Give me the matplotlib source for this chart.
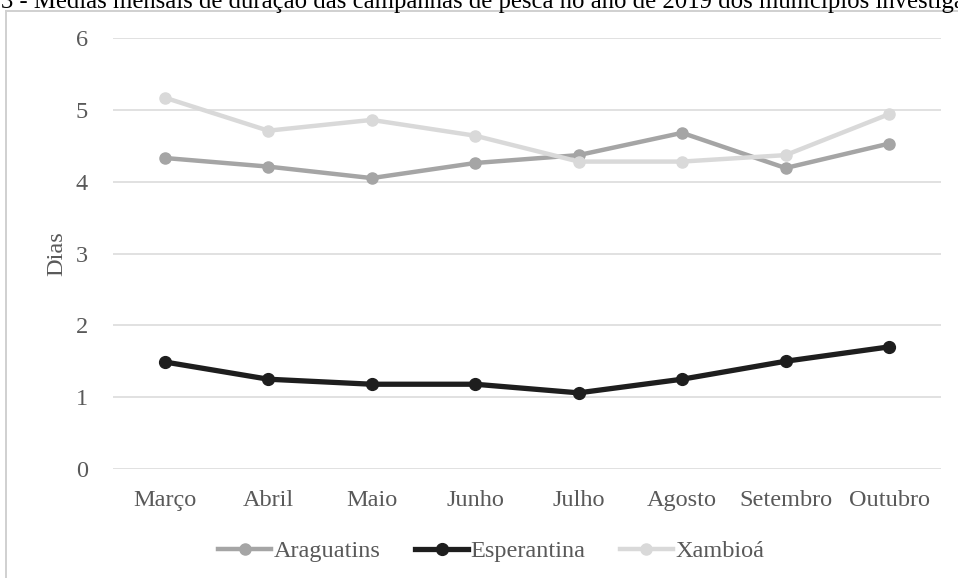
import matplotlib.pyplot as plt
from matplotlib.lines import Line2D

plt.rcParams['font.family'] = ['Liberation Serif', 'DejaVu Serif']

# Monthly means of fishing-trip duration (days), 2019
months = ['Março', 'Abril', 'Maio', 'Junho', 'Julho', 'Agosto', 'Setembro', 'Outubro']
araguatins = [4.33, 4.21, 4.05, 4.26, 4.37, 4.68, 4.19, 4.53]
esperantina = [1.49, 1.25, 1.18, 1.18, 1.06, 1.25, 1.50, 1.70]
xambioa = [5.17, 4.71, 4.86, 4.64, 4.28, 4.28, 4.37, 4.94]

fig = plt.figure(figsize=(9.58, 5.78), dpi=100)
ax = fig.add_axes([0.118, 0.1886, 0.864, 0.7456])

x = range(len(months))
ax.plot(x, araguatins, color='#a5a5a5', lw=3.2, marker='o', ms=8, label='Araguatins', zorder=3)
ax.plot(x, esperantina, color='#1e1e1e', lw=3.8, marker='o', ms=8.5, label='Esperantina', zorder=3)
ax.plot(x, xambioa, color='#d9d9d9', lw=3.2, marker='o', ms=8, label='Xambioá', zorder=4)

ax.set_xlim(-0.5, len(months) - 0.5)
ax.set_ylim(0, 6)
ax.set_yticks(range(0, 7))
ax.set_xticks(list(x))
ax.set_xticklabels(months)
ax.grid(axis='y', color='#d9d9d9', lw=1.1)
ax.set_axisbelow(True)
for s in ax.spines.values():
    s.set_visible(False)
ax.tick_params(length=0, labelsize=17.5, colors='#595959')
ax.tick_params(axis='x', pad=15)
ax.tick_params(axis='y', pad=18)
ax.set_ylabel('Dias', fontsize=17.5, color='#595959', labelpad=6)

ax.legend(loc='upper center', bbox_to_anchor=(0.457, -0.115), ncol=3, frameon=False,
          fontsize=17.5, labelcolor='#595959', handlelength=2.2, handletextpad=0.1,
          columnspacing=1.4)

# chart frame (partly outside the picture)
fig.add_artist(Line2D([6 / 958, 6 / 958], [0, 1 - 11 / 578], color='#d0d0d0', lw=1.4))
fig.add_artist(Line2D([6 / 958, 1], [1 - 11 / 578, 1 - 11 / 578], color='#d0d0d0', lw=1.4))

# caption cut off at the top of the image
fig.text(0.001, 1 - 8 / 578, '3 - Médias mensais de duração das campanhas de pesca no ano de 2019 '
         'dos municípios investigados', fontsize=17.8, color='black', va='baseline', ha='left')

fig.savefig('out.png', dpi=100)
